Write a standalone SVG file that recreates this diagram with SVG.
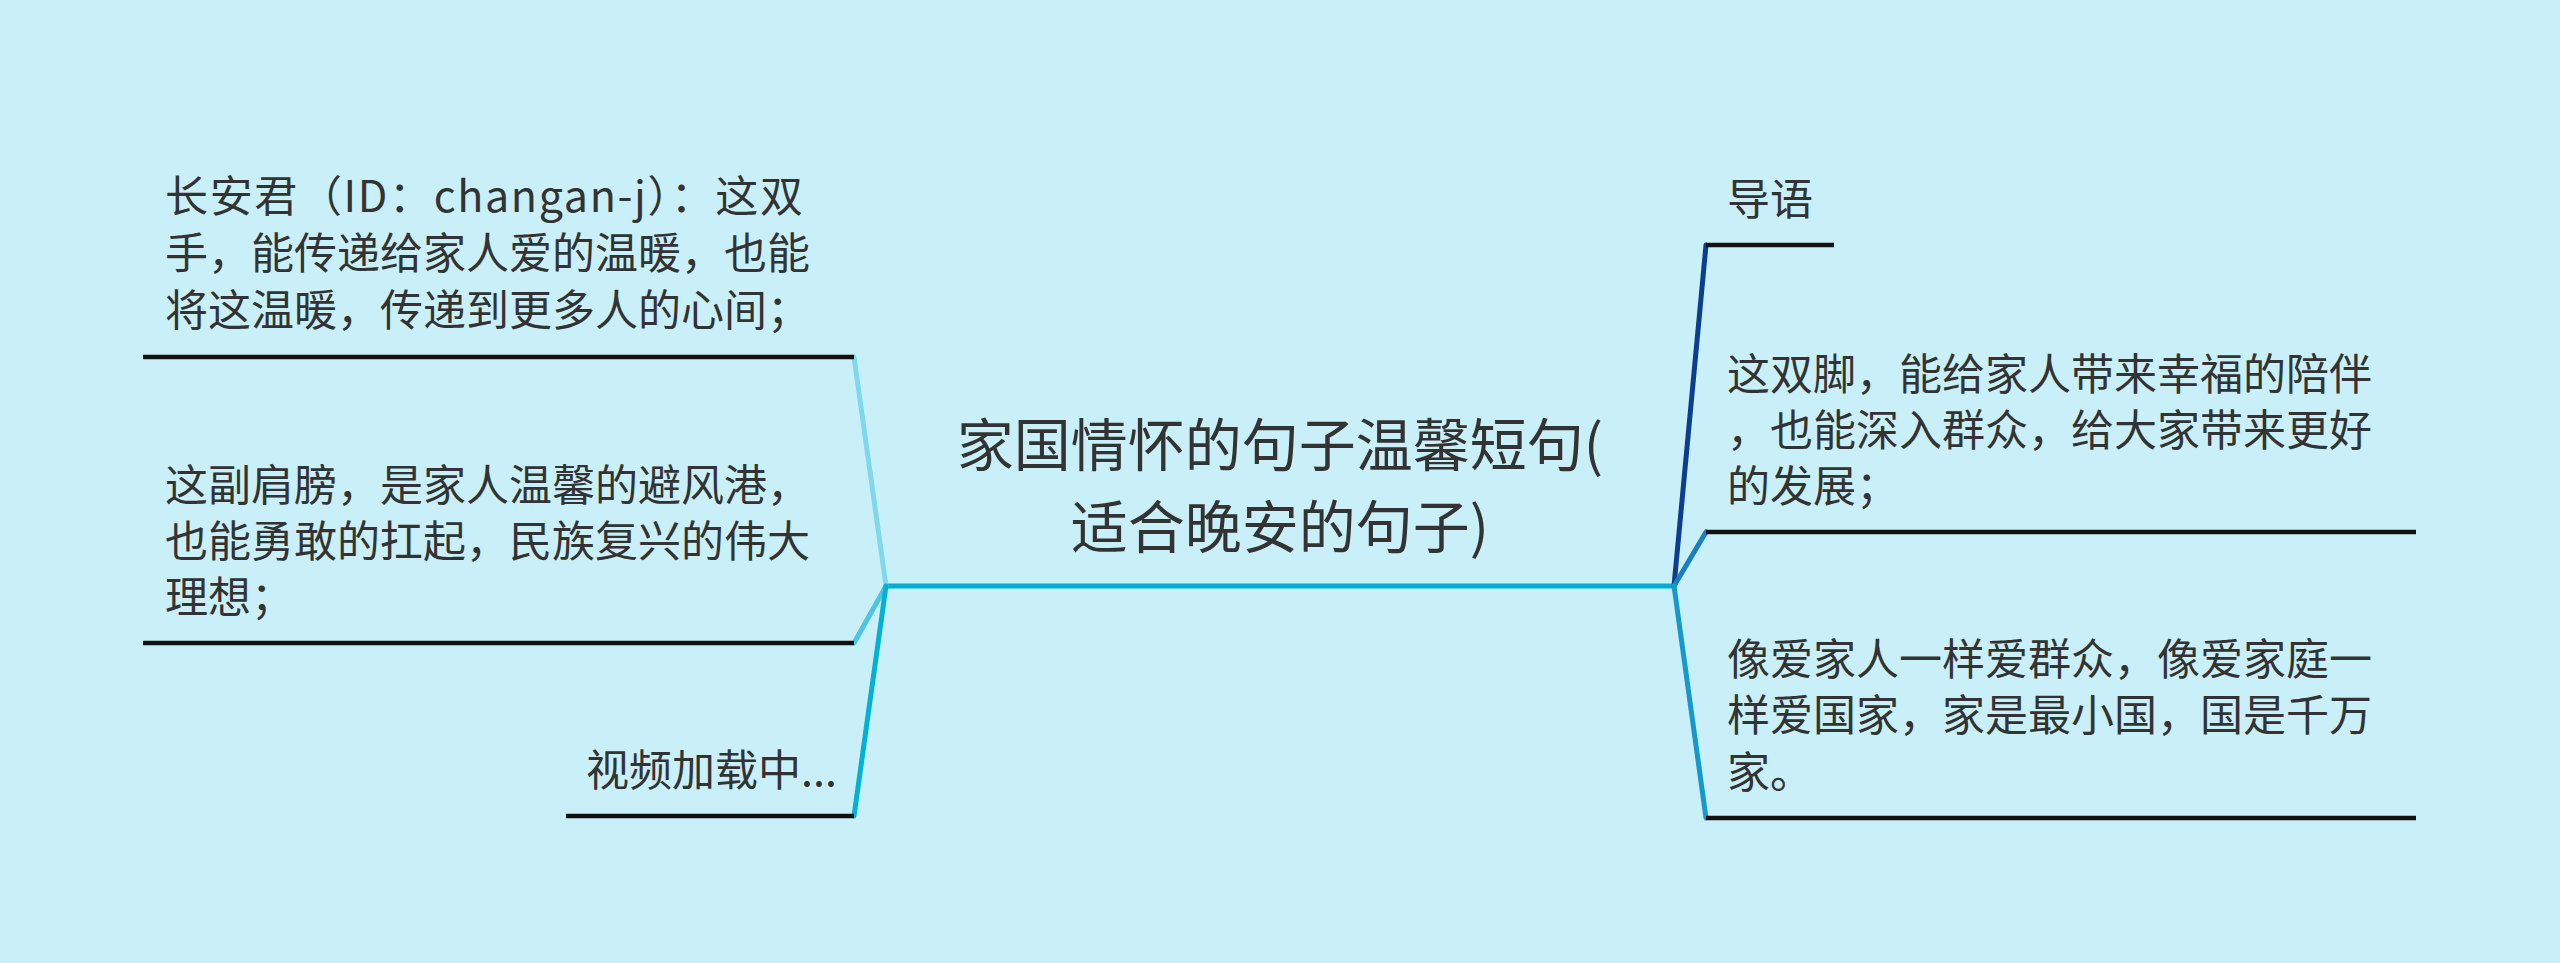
<svg xmlns="http://www.w3.org/2000/svg" width="2560" height="963" viewBox="0 0 2560 963">
<style>
.t{font-family:"Noto Sans CJK SC","Noto Sans",sans-serif;fill:#333333;font-size:43px;dominant-baseline:central}
.title{font-size:57px;text-anchor:middle}
.ul{stroke:#111111;stroke-width:4.5;fill:none;stroke-linecap:butt}
.c{fill:none;stroke-width:5;stroke-linecap:round;stroke-linejoin:round}
</style>
<rect width="2560" height="963" fill="#c9f0f8"/>
<g id="connectors">
<line class="c" x1="886" y1="586" x2="1674" y2="586" stroke="#00afd2" stroke-width="6"/>
<line class="c" x1="886" y1="586" x2="854" y2="357" stroke="#80d8ec"/>
<line class="c" x1="886" y1="586" x2="854" y2="643" stroke="#4cc6e1"/>
<line class="c" x1="886" y1="586" x2="854" y2="816" stroke="#00b2d6"/>
<line class="c" x1="1674" y1="586" x2="1706" y2="245" stroke="#0b3e8e"/>
<line class="c" x1="1674" y1="586" x2="1706" y2="532" stroke="#1a7fc0"/>
<line class="c" x1="1674" y1="586" x2="1706" y2="818" stroke="#1598cd"/>
</g>
<g id="center">
<text class="t title" x="1280" y="441">家国情怀的句子温馨短句(</text>
<text class="t title" x="1280" y="523">适合晚安的句子)</text>
</g>
<g id="left1">
<text class="t" x="165" y="193" textLength="638" lengthAdjust="spacing">长安君（ID：changan-j）：这双</text>
<text class="t" x="165" y="250">手，能传递给家人爱的温暖，也能</text>
<text class="t" x="165" y="307">将这温暖，传递到更多人的心间；</text>
<line class="ul" x1="143" y1="357" x2="854" y2="357"/>
</g>
<g id="left2">
<text class="t" x="165" y="482">这副肩膀，是家人温馨的避风港，</text>
<text class="t" x="165" y="538">也能勇敢的扛起，民族复兴的伟大</text>
<text class="t" x="165" y="594">理想；</text>
<line class="ul" x1="143" y1="643" x2="854" y2="643"/>
</g>
<g id="left3">
<text class="t" x="586" y="767">视频加载中...</text>
<line class="ul" x1="566" y1="816" x2="854" y2="816"/>
</g>
<g id="right1">
<text class="t" x="1727" y="196">导语</text>
<line class="ul" x1="1706" y1="245" x2="1834" y2="245"/>
</g>
<g id="right2">
<text class="t" x="1727" y="371">这双脚，能给家人带来幸福的陪伴</text>
<text class="t" x="1727" y="427">，也能深入群众，给大家带来更好</text>
<text class="t" x="1727" y="483">的发展；</text>
<line class="ul" x1="1706" y1="532" x2="2416" y2="532"/>
</g>
<g id="right3">
<text class="t" x="1727" y="656">像爱家人一样爱群众，像爱家庭一</text>
<text class="t" x="1727" y="712">样爱国家，家是最小国，国是千万</text>
<text class="t" x="1727" y="769">家。</text>
<line class="ul" x1="1706" y1="818" x2="2416" y2="818"/>
</g>
</svg>
